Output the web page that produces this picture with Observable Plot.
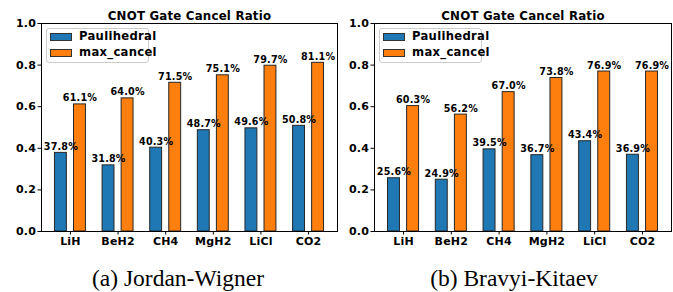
<!DOCTYPE html>
<html>
<head>
<meta charset="utf-8">
<script src="https://cdn.jsdelivr.net/npm/d3@7"></script>
<script src="https://cdn.jsdelivr.net/npm/@observablehq/plot@0.6"></script>
<style>
  html, body { margin: 0; padding: 0; background: #fff; }
  #root { position: relative; width: 673px; height: 292px; overflow: hidden; font-family: "DejaVu Sans", sans-serif; }
  .panel { position: absolute; top: 0; }
  .legend { position: absolute; width: 101px; height: 33px; border: 1px solid #ccc; border-radius: 3px; background: rgba(255,255,255,0.8); }
  .patch { position: absolute; left: 3px; width: 20px; height: 6px; border: 1px solid #333; }
  .ltext { position: absolute; left: 32px; font: bold 11.6px "DejaVu Sans"; letter-spacing: 0.3px; line-height: 13px; color: #000; white-space: nowrap; }
  .caption { position: absolute; font: 23.5px "Liberation Serif", "Times New Roman", serif; color: #000; white-space: nowrap; transform: translateX(-50%); line-height: 26px; }
</style>
</head>
<body>
<div id="root"></div>
<script>
const categories = ["LiH", "BeH2", "CH4", "MgH2", "LiCl", "CO2"];
const seriesNames = ["Paulihedral", "max_cancel"];
const seriesColors = ["#1f77b4", "#ff7f0e"];
const yTicks = [0, 0.2, 0.4, 0.6, 0.8, 1.0];
const titleText = "CNOT Gate Cancel Ratio";
const captions = ["(a) Jordan-Wigner", "(b) Bravyi-Kitaev"];

// Jordan-Wigner
const jwPaulihedral = [0.378, 0.318, 0.403, 0.487, 0.496, 0.508];
const jwMaxCancel   = [0.611, 0.640, 0.715, 0.751, 0.797, 0.811];
// Bravyi-Kitaev
const bkPaulihedral = [0.256, 0.249, 0.395, 0.367, 0.434, 0.369];
const bkMaxCancel   = [0.603, 0.562, 0.670, 0.738, 0.769, 0.769];

const barW = 0.25, barOff = 0.2;

function panel(pa, mx, width, ml, mr) {
  const rows = categories.flatMap((c, i) => [
    {i, series: seriesNames[0], v: pa[i], xc: i - barOff},
    {i, series: seriesNames[1], v: mx[i], xc: i + barOff}
  ]);
  const n = categories.length;
  const lo = -barOff - barW / 2, hi = (n - 1) + barOff + barW / 2;
  const pad = (hi - lo) * 0.05;
  return Plot.plot({
    width, height: 250,
    marginLeft: ml, marginRight: mr, marginTop: 23, marginBottom: 19,
    style: {fontFamily: "DejaVu Sans", fontSize: "11px", fontWeight: "bold", color: "#000", background: "transparent", overflow: "visible", letterSpacing: "0.2px"},
    x: {domain: [lo - pad, hi + pad]},
    y: {domain: [0, 1]},
    color: {domain: seriesNames, range: seriesColors},
    marks: [
      Plot.rectY(rows, {x1: d => d.xc - barW / 2, x2: d => d.xc + barW / 2, y1: 0, y2: "v", fill: "series", stroke: "#262626", strokeWidth: 1}),
      Plot.text(rows, {x: "xc", y: "v", text: d => (d.v * 100).toFixed(1) + "%", lineAnchor: "bottom", dy: -3, fontSize: 9.6, fontWeight: "bold", fill: "#000"}),
      Plot.frame({stroke: "#000", strokeWidth: 1}),
      Plot.axisX({ticks: d3.range(n), tickFormat: i => categories[i], tickSize: 3.5, tickPadding: 2.5, label: null, fontSize: 11}),
      Plot.axisY({ticks: yTicks, tickFormat: d3.format(".1f"), tickSize: 3.5, tickPadding: 2, label: null, fontSize: 11}),
      Plot.text([titleText], {frameAnchor: "top", lineAnchor: "bottom", dy: -4, fontSize: 11.8, fontWeight: "bold", fill: "#000"})
    ]
  });
}

const root = document.getElementById("root");
const specs = [
  {pa: jwPaulihedral, mx: jwMaxCancel, left: 0, width: 340, ml: 41, mr: 3, cap: captions[0], capX: 178},
  {pa: bkPaulihedral, mx: bkMaxCancel, left: 340, width: 333, ml: 34, mr: 2, cap: captions[1], capX: 514}
];
for (const s of specs) {
  const wrap = document.createElement("div");
  wrap.className = "panel";
  wrap.style.left = s.left + "px";
  wrap.appendChild(panel(s.pa, s.mx, s.width, s.ml, s.mr));
  root.appendChild(wrap);

  const lg = document.createElement("div");
  lg.className = "legend";
  lg.style.left = (s.left + s.ml + 5) + "px";
  lg.style.top = "28px";
  seriesNames.forEach((name, k) => {
    const p = document.createElement("div");
    p.className = "patch";
    p.style.top = (4 + k * 16) + "px";
    p.style.background = seriesColors[k];
    lg.appendChild(p);
    const t = document.createElement("div");
    t.className = "ltext";
    t.style.top = (1 + k * 16) + "px";
    t.textContent = name;
    lg.appendChild(t);
  });
  root.appendChild(lg);

  const cap = document.createElement("div");
  cap.className = "caption";
  cap.style.left = s.capX + "px";
  cap.style.top = "265px";
  cap.textContent = s.cap;
  root.appendChild(cap);
}
</script>
</body>
</html>
